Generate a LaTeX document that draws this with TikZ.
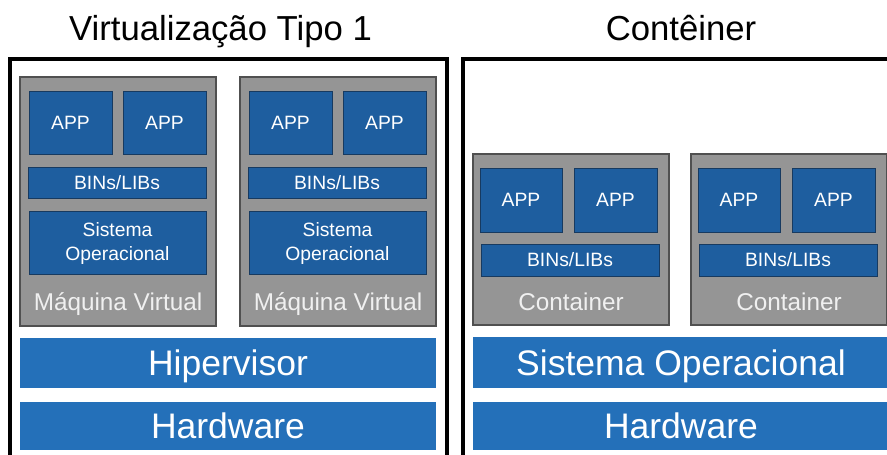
\documentclass[tikz,border=0pt]{standalone}
\usepackage{fontspec}
\setmainfont{Liberation Sans}
\definecolor{vmgray}{HTML}{959595}
\definecolor{vmedge}{HTML}{505050}
\definecolor{appblue}{HTML}{1E5E9F}
\definecolor{appedge}{HTML}{173A60}
\definecolor{barblue}{HTML}{2470B9}
\definecolor{lbl}{HTML}{F0F0F0}
\tikzset{
  frame/.style={draw=black, line width=4pt},
  vmbox/.style={fill=vmgray, draw=vmedge, line width=1.5pt, inner sep=0pt},
  appbox/.style={fill=appblue, draw=appedge, line width=1pt, inner sep=0pt, text=white,
    font=\fontsize{19.3}{23.5}\selectfont, text height=13.8pt, text depth=0pt, align=center},
  barbox/.style={fill=barblue, inner sep=0pt, text=white,
    font=\fontsize{35.5}{40}\selectfont, text height=25.4pt, text depth=0pt},
  vmlabel/.style={text=lbl, inner sep=0pt, anchor=base, font=\fontsize{24.3}{28}\selectfont},
  title/.style={inner sep=0pt, anchor=base, font=\fontsize{34.7}{40}\selectfont},
}
\begin{document}
\begin{tikzpicture}[x=1pt,y=-1pt]
\useasboundingbox (0,0) rectangle (887,455);
\clip (0,0) rectangle (887,455);
% titles
\node[title] (t1) at (220.5,41) {Virtualização Tipo 1};
\node[title] (t2) at (681,41) {Contêiner};
% frames
\draw[frame] (10,480) -- (10,58.5) -- (447,58.5) -- (447,480);
\draw[frame] (463,480) -- (463,58.5) -- (900,58.5);
% left: virtual machines
\foreach \i/\dx in {1/0,2/220}{
  \node[vmbox, minimum width=196pt, minimum height=249pt] (vm\i) at (118+\dx,201.5) {};
  \node[appbox, minimum width=83pt, minimum height=63pt] (vma\i) at (70.5+\dx,122.5) {APP};
  \node[appbox, minimum width=83pt, minimum height=63pt] (vmb\i) at (164.5+\dx,122.5) {APP};
  \node[appbox, minimum width=178pt, minimum height=31pt] (vml\i) at (117+\dx,182.5) {BINs/LIBs};
  \node[appbox, minimum width=177pt, minimum height=63pt, text height=35pt] (vmo\i) at (117.5+\dx,242.5) {Sistema\\Operacional};
  \node[vmlabel] (vmt\i) at (118+\dx,310) {Máquina Virtual};
}
\node[barbox, minimum width=416pt, minimum height=50pt] (hip) at (228,363) {Hipervisor};
\node[barbox, minimum width=416pt, minimum height=48pt] (hw1) at (228,426) {Hardware};
% right: containers
\foreach \i/\dx in {1/0,2/218}{
  \node[vmbox, minimum width=196pt, minimum height=171pt] (ct\i) at (571+\dx,239.5) {};
  \node[appbox, minimum width=82pt, minimum height=64pt] (cta\i) at (521+\dx,200) {APP};
  \node[appbox, minimum width=83pt, minimum height=64pt] (ctb\i) at (615.5+\dx,200) {APP};
  \node[appbox, minimum width=178pt, minimum height=32pt] (ctl\i) at (570+\dx,260) {BINs/LIBs};
  \node[vmlabel] (ctt\i) at (571+\dx,310) {Container};
}
\node[barbox, minimum width=416pt, minimum height=51pt] (so) at (681,362.5) {Sistema Operacional};
\node[barbox, minimum width=416pt, minimum height=48pt] (hw2) at (681,426) {Hardware};
\end{tikzpicture}
\end{document}
